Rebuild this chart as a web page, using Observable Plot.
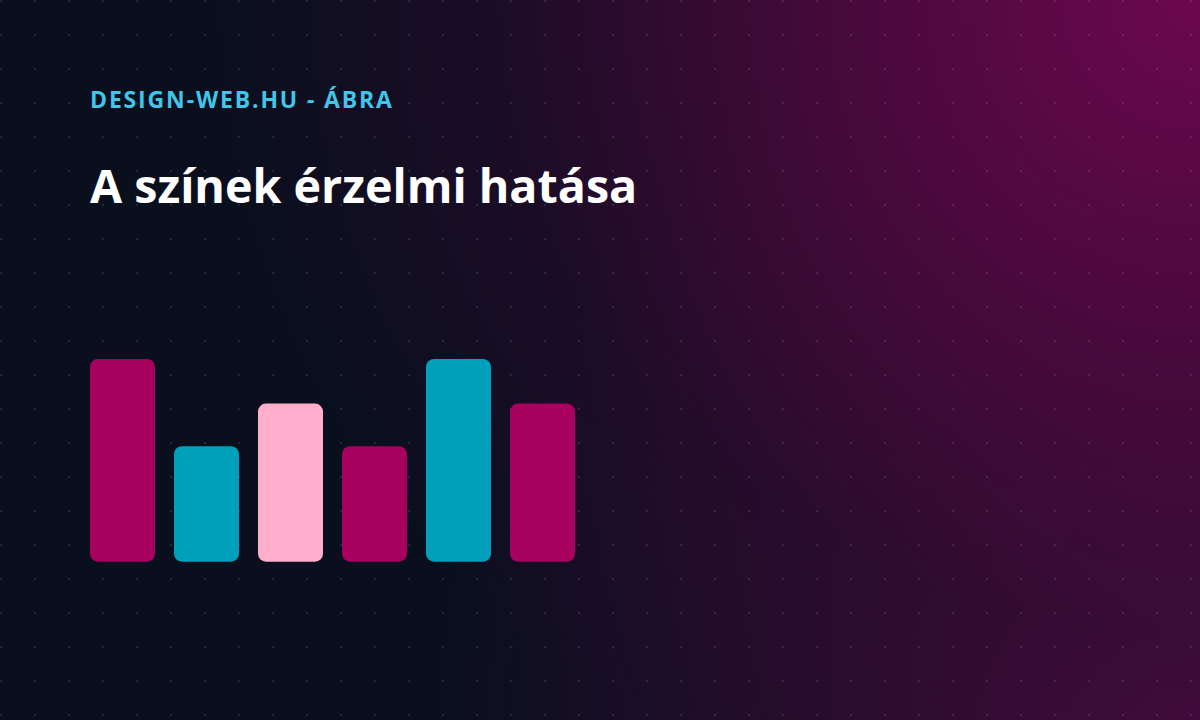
<!DOCTYPE html>
<html>
<head>
<meta charset="utf-8">
<script src="https://cdn.jsdelivr.net/npm/d3@7"></script>
<script src="https://cdn.jsdelivr.net/npm/@observablehq/plot@0.6"></script>
<style>
  html, body { margin: 0; padding: 0; }
  body { width: 1200px; height: 720px; overflow: hidden; }
  #page {
    position: relative; width: 1200px; height: 720px; overflow: hidden;
    background-color: #0a0f1e;
    background-image:
      radial-gradient(ellipse 980px 880px at 100% 0%, rgba(108,8,78,1) 0%, rgba(86,8,66,0.82) 35%, rgba(48,10,48,0.45) 72%, rgba(10,15,30,0) 100%),
      radial-gradient(ellipse 760px 780px at 100% 100%, rgba(72,12,64,1) 0%, rgba(58,12,55,0.65) 45%, rgba(10,15,30,0) 100%);
  }
  #dots {
    position: absolute; left: 0; top: 0; width: 1200px; height: 720px;
    background-image: radial-gradient(circle at 1px 1px, rgba(255,255,255,0.10) 1px, rgba(255,255,255,0) 1.6px);
    background-size: 34px 34px;
    background-position: 0 0;
  }
  .kicker {
    position: absolute; left: 90px; top: 88px; margin: 0;
    font-family: "Open Sans", "Noto Sans", sans-serif; font-weight: 700;
    font-size: 23px; line-height: 23px; color: #3fc6ea; letter-spacing: 1.85px;
    white-space: nowrap;
  }
  .title {
    position: absolute; left: 90px; top: 162px; margin: 0;
    font-family: "Open Sans", "Noto Sans", sans-serif; font-weight: 700;
    font-size: 46.6px; line-height: 46.6px; color: #ffffff;
    white-space: nowrap;
  }
  #chart { position: absolute; left: 0; top: 340px; }
</style>
</head>
<body>
<div id="page">
  <div id="dots"></div>
  <div class="kicker">DESIGN-WEB.HU - ÁBRA</div>
  <div class="title">A színek érzelmi hatása</div>
  <div id="chart"></div>
</div>
<script>
const categories = ["1", "2", "3", "4", "5", "6"];
const values = [100, 57, 78, 57, 100, 78];
const colors = ["#a8005f", "#009fbc", "#ffafcc", "#a8005f", "#009fbc", "#a8005f"];

const data = categories.map((c, i) => ({cat: c, value: values[i], color: colors[i]}));

const chart = Plot.plot({
  width: 600,
  height: 240,
  marginLeft: 90,
  marginRight: 25,
  marginTop: 19,
  marginBottom: 18.3,
  style: {background: "transparent", overflow: "visible"},
  x: {domain: categories, paddingInner: 0.2262, paddingOuter: 0, axis: null},
  y: {domain: [0, 100], axis: null},
  marks: [
    Plot.barY(data, {x: "cat", y: "value", fill: "color", rx: 8})
  ]
});
document.getElementById("chart").appendChild(chart);
</script>
</body>
</html>
